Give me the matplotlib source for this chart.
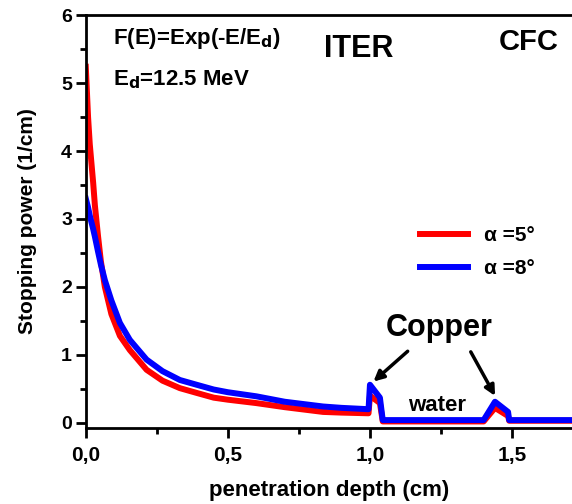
import matplotlib
matplotlib.use("Agg")
import matplotlib.pyplot as plt

plt.rcParams['font.family'] = ['Liberation Sans', 'DejaVu Sans']
plt.rcParams['font.weight'] = 'bold'

# penetration depth (cm)
depth = [0, 0.008, 0.014, 0.026, 0.032, 0.043, 0.053, 0.067, 0.09, 0.12,
         0.155, 0.214, 0.27, 0.331, 0.39, 0.45, 0.5, 0.6, 0.7, 0.835, 0.9,
         0.995, 1.0, 1.035, 1.045, 1.40, 1.44, 1.486, 1.49, 1.75]
# stopping power (1/cm)
sp_5deg = [5.24, 4.5, 4.1, 3.53, 3.2, 2.75, 2.38, 2.0, 1.6, 1.28,
           1.07, 0.78, 0.62, 0.51, 0.44, 0.37, 0.34, 0.29, 0.23, 0.16, 0.15,
           0.14, 0.40, 0.29, 0.02, 0.02, 0.22, 0.10, 0.03, 0.03]
sp_8deg = [3.30, 3.17, 3.05, 2.85, 2.74, 2.52, 2.33, 2.1, 1.8, 1.47,
           1.22, 0.93, 0.76, 0.63, 0.56, 0.49, 0.45, 0.39, 0.31, 0.24, 0.22,
           0.20, 0.56, 0.37, 0.04, 0.04, 0.31, 0.16, 0.04, 0.04]

xticks = [0.0, 0.5, 1.0, 1.5]
xticklabels = ['0,0', '0,5', '1,0', '1,5']
yticks = [0, 1, 2, 3, 4, 5, 6]

fig = plt.figure(figsize=(5.72, 5.04), dpi=100)
ax = fig.add_axes([0.150, 0.151, 0.850, 0.819])

ax.plot(depth, sp_5deg, color='#ff0000', lw=4.3, label='α =5°')
ax.plot(depth, sp_8deg, color='#0000ff', lw=4.3, label='α =8°')

ax.set_xlim(0, 1.711)
ax.set_ylim(-0.075, 6)
ax.set_xticks(xticks)
ax.set_xticklabels(xticklabels)
ax.set_xticks([0.25, 0.75, 1.25], minor=True)
ax.set_yticks(yticks)
ax.set_yticks([0.5, 1.5, 2.5, 3.5, 4.5, 5.5], minor=True)
ax.tick_params(axis='both', which='major', direction='out', length=7, width=2)
ax.tick_params(axis='both', which='minor', direction='out', length=4, width=2)
ax.tick_params(axis='x', labelsize=15, pad=6)
ax.tick_params(axis='y', labelsize=14, pad=3)
for lab in ax.get_xticklabels() + ax.get_yticklabels():
    lab.set_fontweight('bold')

for s in ['left', 'bottom', 'top']:
    ax.spines[s].set_linewidth(2)
ax.spines['right'].set_visible(False)

ax.set_xlabel('penetration depth (cm)', fontsize=16, fontweight='bold', labelpad=11)
ax.set_ylabel('Stopping power (1/cm)', fontsize=15, fontweight='bold', labelpad=17)

ax.text(0.095, 5.65, 'F(E)=Exp(-E/E$_\\mathbf{d}$)', fontsize=16, fontweight='bold', va='center')
ax.text(0.095, 5.05, 'E$_\\mathbf{d}$=12.5 MeV', fontsize=16, fontweight='bold', va='center')
ax.text(0.96, 5.5, 'ITER', fontsize=22, fontweight='bold', va='center', ha='center')
ax.text(1.56, 5.6, 'CFC', fontsize=21, fontweight='bold', va='center', ha='center')
ax.text(1.245, 1.4, 'Copper', fontsize=22, fontweight='bold', va='center', ha='center')
ax.text(1.235, 0.26, 'water', fontsize=16, fontweight='bold', va='center', ha='center')

arrow = dict(arrowstyle='-|>,head_length=0.6,head_width=0.3', color='black', lw=2.5)
ax.annotate('', xy=(1.005, 0.58), xytext=(1.14, 1.08), arrowprops=arrow)
ax.annotate('', xy=(1.445, 0.36), xytext=(1.35, 1.08), arrowprops=arrow)

leg = ax.legend(loc='upper left', bbox_to_anchor=(0.648, 0.535), frameon=False,
                fontsize=15, handlelength=2.3, labelspacing=0.7)
for t in leg.get_texts():
    t.set_fontweight('bold')

fig.savefig('out.png', dpi=100)
